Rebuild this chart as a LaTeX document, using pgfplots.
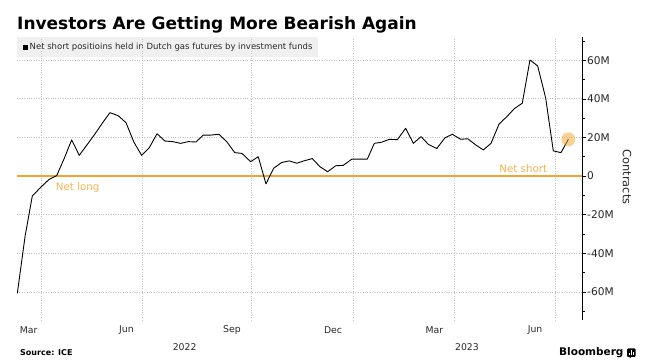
\documentclass[border=0pt]{standalone}
\usepackage{fontspec}
\setmainfont{DejaVu Sans}
\usepackage{pgfplots}
\pgfplotsset{compat=1.18}
\definecolor{netorange}{RGB}{240,165,45}
\definecolor{lightorange}{RGB}{242,180,80}
\definecolor{gridgray}{RGB}{195,195,195}
\definecolor{legbg}{RGB}{240,240,240}
\definecolor{ticktext}{RGB}{40,40,40}
\begin{document}
\begin{tikzpicture}[x=1pt,y=1pt]
\useasboundingbox (0,0) rectangle (651,364);
\fill[white] (0,0) rectangle (651,364);
% title
\node[anchor=base west, inner sep=0, font=\bfseries\fontsize{17}{20}\selectfont] at (17,334.7) {Investors Are Getting More Bearish Again};
% legend box
\fill[legbg] (17,306.7) rectangle (318,326.7);
\fill[black] (22.7,314) rectangle (28,319.3);
\node[anchor=west, inner sep=0, font=\fontsize{8.5}{10}\selectfont, text=ticktext] at (29.5,316.7) {Net short positioins held in Dutch gas futures by investment funds};
\begin{axis}[
  at={(17pt,327pt)}, anchor=north west,
  width=565pt, height=283pt, scale only axis,
  xmin=37.2, xmax=550.8, ymin=-74.6, ymax=72,
  axis x line*=bottom, x axis line style={draw=none},
  axis y line*=right,
  y axis line style={black, line width=0.6pt},
  xtick={59,150.8,249.9,342.6,434.5,526.3},
  xticklabels={,,,,,},
  xmajorgrids,
  extra x ticks={47.8,136.7,232.6,324.5,416.7,508.1},
  extra x tick labels={Mar,Jun,Sep,Dec,Mar,Jun},
  extra x tick style={xmajorgrids=false, major tick length=0pt,
    tick label style={font=\fontsize{9.3}{11}\selectfont, text=ticktext, anchor=center, yshift=-10pt}},
  x tick style={draw=none},
  ytick={-60,-40,-20,0,20,40,60},
  yticklabels={-60M,-40M,-20M,0,20M,40M,60M},
  minor ytick={-70,-50,-30,-10,10,30,50,70},
  ymajorgrids,
  tick align=outside,
  major tick length=4pt, minor tick length=2.5pt,
  y tick style={black, line width=0.5pt},
  y tick label style={font=\fontsize{10.6}{12}\selectfont, text=ticktext, anchor=west, inner sep=1pt},
  grid style={gridgray, dotted, line width=0.6pt},
  clip=false,
]
\draw[netorange, line width=1.8pt] (axis cs:37.2,0) -- (axis cs:550.8,0);
\addplot[only marks, mark=*, mark size=7pt, color=netorange, mark options={draw opacity=0, fill opacity=0.5}, forget plot] coordinates {(538.4,19.0)};
\addplot[black, line width=0.9pt, line join=round] coordinates {
(37.5,-60.8) (44.5,-31.4) (51.1,-10.4) (58.5,-6.0) (66.5,-1.7) (73.3,0.2)
(80.2,9.2) (86.9,18.7) (93.8,10.7) (100.8,16.1) (108.1,21.8) (114.9,27.5)
(121.7,32.8) (129.3,31.2) (136.3,27.6) (143.5,17.5) (150.5,10.7) (157.5,14.7)
(164.5,21.9) (171.7,18.1) (178.7,17.8) (186.0,16.9) (192.9,17.8) (199.9,17.6)
(206.5,21.2) (213.5,21.2) (220.8,21.6) (228.1,17.6) (235.1,12.1) (241.7,11.7)
(249.6,7.4) (256.5,10.0) (263.5,-4.1) (270.5,4.0) (277.8,7.0) (284.7,7.8)
(291.5,6.6) (298.5,7.9) (305.6,9.0) (312.6,4.8) (319.6,2.2) (326.9,5.3)
(333.8,5.5) (341.5,8.7) (348.5,8.7) (355.6,8.7) (362.0,16.9) (368.7,17.5)
(375.6,19.0) (382.9,18.8) (390.5,24.7) (397.5,16.9) (404.5,20.4) (411.1,16.4)
(418.7,14.2) (426.3,19.8) (432.9,21.6) (440.5,19.0) (446.9,19.3) (454.2,16.1)
(461.1,13.5) (468.1,16.9) (475.4,26.9) (482.4,30.7) (489.3,34.9) (496.5,37.7)
(503.5,60.1) (510.5,57.0) (517.8,40.3) (524.7,13.0) (531.7,12.1) (538.4,19.0)
};
\node[anchor=west, inner sep=0, text=lightorange, font=\fontsize{10.3}{12}\selectfont] at (axis cs:72.4,-5.85) {Net long};
\node[anchor=east, inner sep=0, text=lightorange, font=\fontsize{10.3}{12}\selectfont] at (axis cs:519.3,3.6) {Net short};
\end{axis}
\node[rotate=-90, inner sep=0, font=\fontsize{11.4}{13}\selectfont, text=ticktext] at (627,187) {Contracts};
\node[inner sep=0, font=\fontsize{9.3}{11}\selectfont, text=ticktext] at (184.6,17) {2022};
\node[inner sep=0, font=\fontsize{9.3}{11}\selectfont, text=ticktext] at (467,17) {2023};
\node[anchor=west, inner sep=0, font=\bfseries\fontsize{8}{10}\selectfont] at (20,11) {Source: ICE};
\node[anchor=west, inner sep=0, font=\bfseries\fontsize{10.5}{12}\selectfont] at (559,11) {Bloomberg};
\fill[black, rounded corners=1pt] (627,7) rectangle (635.5,15.5);
\fill[black] (629.5,5.5) -- (631.5,7.2) -- (629.5,7.2) -- cycle;
\draw[white, line width=0.7pt] (629.3,8.5) -- (629.3,11) (631.3,8.5) -- (631.3,13.5) (633.3,8.5) -- (633.3,12);
\end{tikzpicture}
\end{document}
